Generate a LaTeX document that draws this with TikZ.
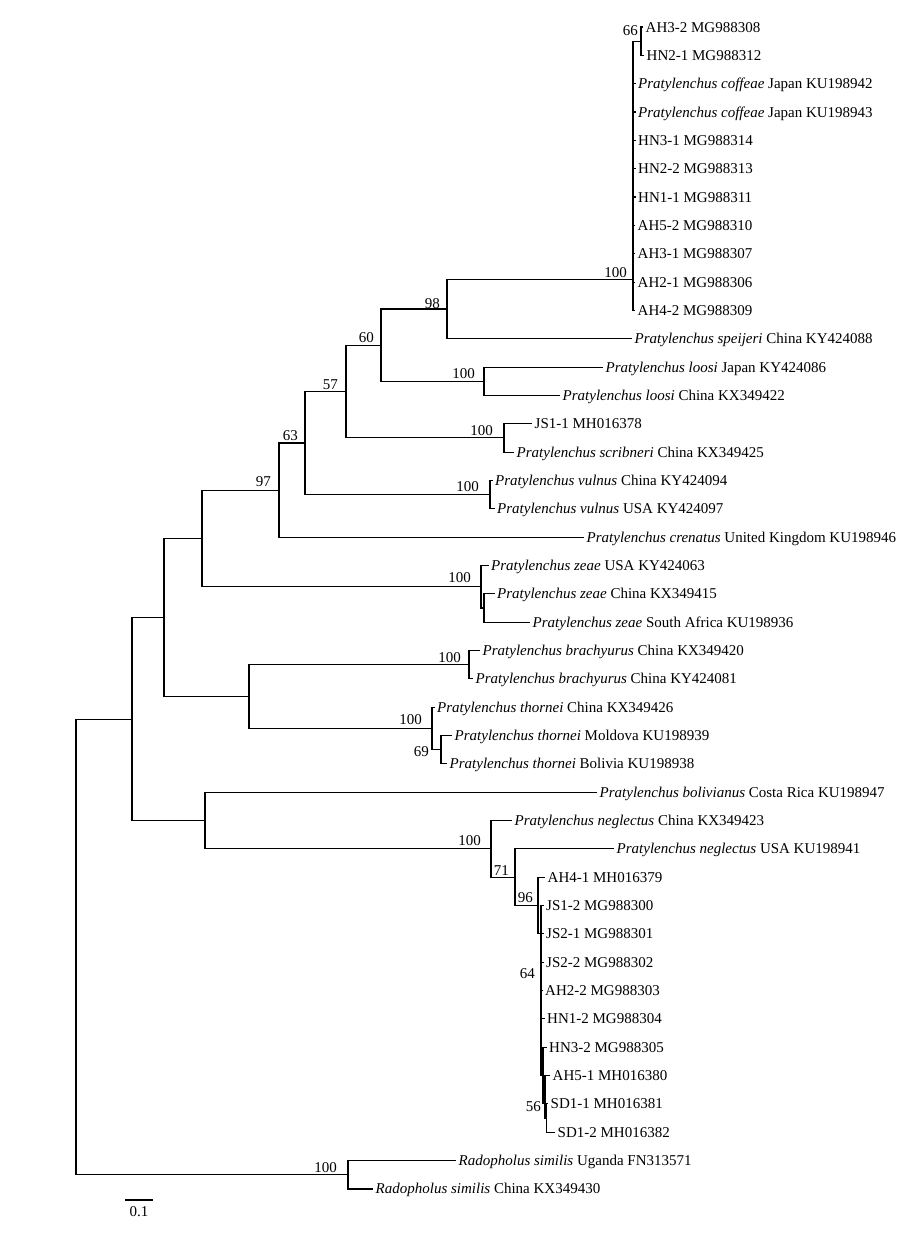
\documentclass[tikz,border=0pt]{standalone}
\usepackage{fontspec}
\setmainfont{Liberation Serif}
\newcommand\Pra[1]{\textit{Pratylenchus #1}}
\newcommand\Rsim{\textit{Radopholus similis}}
\begin{document}
\begin{tikzpicture}[x=1pt,y=-28.34pt,
  edge/.style={line width=1.1pt, draw=black},
  leaf/.style={anchor=west, inner xsep=2.5pt, inner ysep=0pt, text height=10pt, text depth=0pt, font=\fontsize{15}{18}\selectfont},
  bs/.style={anchor=east, inner sep=0pt, text height=10pt, text depth=0pt, font=\fontsize{15}{18}\selectfont}]
\useasboundingbox (0,0.0473) rectangle (919,43.625);
% internal nodes
\coordinate (R) at (76,33.46);
\coordinate (A) at (132,25.42);
\coordinate (Rad) at (348,41.5);
\coordinate (B) at (164,21.835);
\coordinate (Bol) at (205,29);
\coordinate (C) at (202,19.045);
\coordinate (D) at (249,24.625);
\coordinate (E) at (279,17.34);
\coordinate (Z) at (481,20.75);
\coordinate (Z2) at (484,21.5);
\coordinate (F) at (305,15.68);
\coordinate (G) at (346,13.8625);
\coordinate (V) at (490,17.5);
\coordinate (H) at (381,12.225);
\coordinate (J) at (504,15.5);
\coordinate (I) at (447,10.95);
\coordinate (Lo) at (484,13.5);
\coordinate (K) at (633,9.9);
\coordinate (K66) at (641,1.5);
\coordinate (Br) at (469,23.5);
\coordinate (T) at (432,25.75);
\coordinate (T2) at (441,26.5);
\coordinate (N100) at (491,30);
\coordinate (N71) at (515,31);
\coordinate (N96) at (538,32);
\coordinate (N64) at (541,33);
\coordinate (P1) at (543,38);
\coordinate (P2) at (545,39);
\coordinate (P3) at (546.5,39.5);
% leaves
\node[leaf] (L1) at (643,1) {AH3-2 MG988308};
\node[leaf] (L2) at (644,2) {HN2-1 MG988312};
\node[leaf] (L3) at (635.5,3) {\Pra{coffeae} Japan KU198942};
\node[leaf] (L4) at (635.5,4) {\Pra{coffeae} Japan KU198943};
\node[leaf] (L5) at (635.5,5) {HN3-1 MG988314};
\node[leaf] (L6) at (635.5,6) {HN2-2 MG988313};
\node[leaf] (L7) at (635.5,7) {HN1-1 MG988311};
\node[leaf] (L8) at (635,8) {AH5-2 MG988310};
\node[leaf] (L9) at (635,9) {AH3-1 MG988307};
\node[leaf] (L10) at (635,10) {AH2-1 MG988306};
\node[leaf] (L11) at (635,11) {AH4-2 MG988309};
\node[leaf] (L12) at (632,12) {\Pra{speijeri} China KY424088};
\node[leaf] (L13) at (603,13) {\Pra{loosi} Japan KY424086};
\node[leaf] (L14) at (560,14) {\Pra{loosi} China KX349422};
\node[leaf] (L15) at (532,15) {JS1-1 MH016378};
\node[leaf] (L16) at (514,16) {\Pra{scribneri} China KX349425};
\node[leaf] (L17) at (492.5,17) {\Pra{vulnus} China KY424094};
\node[leaf] (L18) at (494.5,18) {\Pra{vulnus} USA KY424097};
\node[leaf] (L19) at (584,19) {\Pra{crenatus} United Kingdom KU198946};
\node[leaf] (L20) at (488.5,20) {\Pra{zeae} USA KY424063};
\node[leaf] (L21) at (494.5,21) {\Pra{zeae} China KX349415};
\node[leaf] (L22) at (530,22) {\Pra{zeae} South Africa KU198936};
\node[leaf] (L23) at (480,23) {\Pra{brachyurus} China KX349420};
\node[leaf] (L24) at (473,24) {\Pra{brachyurus} China KY424081};
\node[leaf] (L25) at (434.5,25) {\Pra{thornei} China KX349426};
\node[leaf] (L26) at (452,26) {\Pra{thornei} Moldova KU198939};
\node[leaf] (L27) at (447,27) {\Pra{thornei} Bolivia KU198938};
\node[leaf] (L28) at (597,28) {\Pra{bolivianus} Costa Rica KU198947};
\node[leaf] (L29) at (512,29) {\Pra{neglectus} China KX349423};
\node[leaf] (L30) at (614,30) {\Pra{neglectus} USA KU198941};
\node[leaf] (L31) at (545,31) {AH4-1 MH016379};
\node[leaf] (L32) at (543.5,32) {JS1-2 MG988300};
\node[leaf] (L33) at (543.5,33) {JS2-1 MG988301};
\node[leaf] (L34) at (543.5,34) {JS2-2 MG988302};
\node[leaf] (L35) at (542.5,35) {AH2-2 MG988303};
\node[leaf] (L36) at (544.5,36) {HN1-2 MG988304};
\node[leaf] (L37) at (546.5,37) {HN3-2 MG988305};
\node[leaf] (L38) at (550,38) {AH5-1 MH016380};
\node[leaf] (L39) at (548,39) {SD1-1 MH016381};
\node[leaf] (L40) at (555,40) {SD1-2 MH016382};
\node[leaf] (L41) at (456,41) {\Rsim{} Uganda FN313571};
\node[leaf] (L42) at (373,42) {\Rsim{} China KX349430};
% edges
\foreach \p/\c in {R/A, R/Rad, A/B, A/Bol, B/C, B/D, C/E, C/Z, E/F, E/L19.west,
  F/G, F/V, G/H, G/J, H/I, H/Lo, I/K, I/L12.west, K/K66,
  K/L3.west, K/L4.west, K/L5.west, K/L6.west, K/L7.west, K/L8.west, K/L9.west, K/L10.west, K/L11.west,
  K66/L1.west, K66/L2.west, Lo/L13.west, Lo/L14.west, J/L15.west, J/L16.west,
  V/L17.west, V/L18.west, Z/L20.west, Z/Z2, Z2/L21.west, Z2/L22.west,
  D/Br, D/T, Br/L23.west, Br/L24.west, T/L25.west, T/T2, T2/L26.west, T2/L27.west,
  Bol/L28.west, Bol/N100, N100/L29.west, N100/N71, N71/L30.west, N71/N96,
  N96/L31.west, N96/N64, N64/L32.west, N64/L33.west, N64/L34.west, N64/L35.west, N64/L36.west,
  N64/P1, P1/L37.west, P1/P2, P2/L38.west, P2/P3, P3/L39.west, P3/L40.west,
  Rad/L41.west, Rad/L42.west}
  \draw[edge] (\p) |- (\c);
% bootstrap values
\node[bs] (b66) at (638,1.106) {66};
\node[bs] (bK) at (627,9.68) {100};
\node[bs] (bI) at (440,10.74) {98};
\node[bs] (bH) at (374,11.97) {60};
\node[bs] (bLo) at (475,13.21) {100};
\node[bs] (bG) at (338,13.6) {57};
\node[bs] (bJ) at (493,15.22) {100};
\node[bs] (bF) at (298,15.4) {63};
\node[bs] (bE) at (271,17.05) {97};
\node[bs] (bV) at (479,17.23) {100};
\node[bs] (bZ) at (471,20.44) {100};
\node[bs] (bBr) at (461,23.23) {100};
\node[bs] (bT) at (422,25.45) {100};
\node[bs] (bT2) at (429,26.58) {69};
\node[bs] (bN100) at (481,29.72) {100};
\node[bs] (bN71) at (509,30.75) {71};
\node[bs] (bN96) at (533,31.73) {96};
\node[bs] (b64) at (535,34.38) {64};
\node[bs] (b56) at (541,39.1) {56};
\node[bs] (bRad) at (337,41.23) {100};
% scale bar
\coordinate (s1) at (125,42.39);
\coordinate (s2) at (153,42.39);
\draw[edge] (s1) -- (s2);
\node[bs, anchor=center] (sl) at (139,42.81) {0.1};
\end{tikzpicture}
\end{document}
